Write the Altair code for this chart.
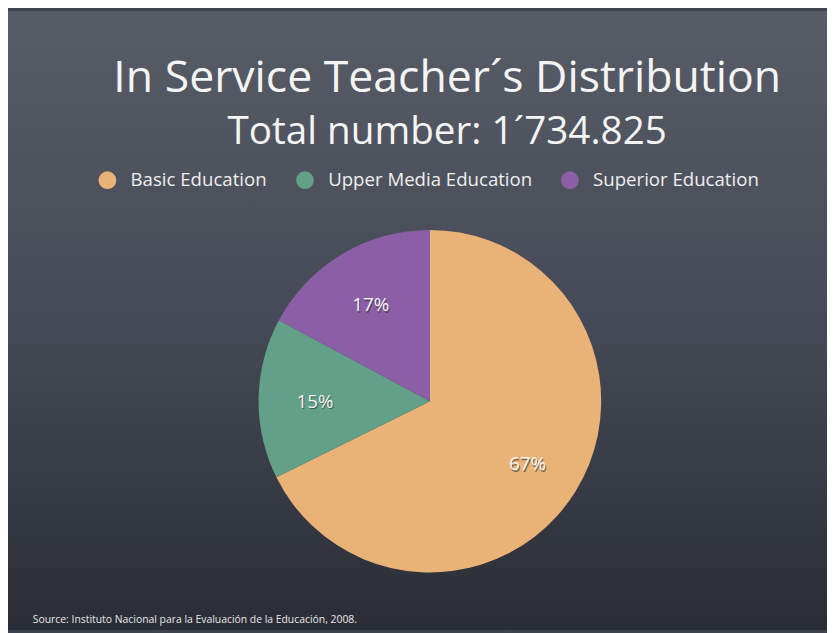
import altair as alt
import pandas as pd

categories = ["Basic Education", "Upper Media Education", "Superior Education"]
values = [67, 15, 17]
labels = ["67%", "15%", "17%"]
colors = ["#e9b277", "#62a087", "#8b5fa6"]
title_text = "In Service Teacher´s Distribution"
subtitle_text = "Total number: 1´734.825"
source_text = "Source: Instituto Nacional para la Evaluación de la Educación, 2008."

FONT = "Open Sans"
W, H = 827, 625

df = pd.DataFrame({"category": categories, "value": values, "label": labels,
                   "idx": list(range(len(categories)))})

bg = alt.Chart(pd.DataFrame({"a": [0]})).mark_rect(
    fill=alt.Gradient(gradient="linear", x1=0, y1=0, x2=0, y2=1,
                      stops=[alt.GradientStop(color="#575c67", offset=0),
                             alt.GradientStop(color="#464a56", offset=0.5),
                             alt.GradientStop(color="#2a2d35", offset=1)])
).encode(x=alt.value(0), x2=alt.value(W), y=alt.value(0), y2=alt.value(H))

cx, cy = 426, 394

base = alt.Chart(df).encode(
    theta=alt.Theta("value:Q", stack=True),
    order=alt.Order("idx:Q"),
    x=alt.value(cx), y=alt.value(cy),
)

pie = base.mark_arc(outerRadius=173, strokeWidth=0).encode(
    color=alt.Color("category:N",
                    scale=alt.Scale(domain=categories, range=colors),
                    legend=alt.Legend(title=None, orient="none", direction="horizontal",
                                      legendX=91, legendY=161,
                                      symbolType="circle", symbolSize=320,
                                      symbolStrokeWidth=0, symbolOpacity=1,
                                      labelColor="#eeeeee", labelFont=FONT,
                                      labelFontSize=18.8, labelOffset=14,
                                      columnPadding=28.5, labelLimit=400))
)

shadow = base.mark_text(radius=116, font=FONT, fontSize=19, color="#333333",
                        opacity=0.6, dx=1, dy=4).encode(text="label:N")
txt = base.mark_text(radius=116, font=FONT, fontSize=19, color="#f4f4f4",
                     dy=2.5).encode(text="label:N")

source = alt.Chart(pd.DataFrame({"t": [source_text]})).mark_text(
    align="left", baseline="middle", font=FONT, fontSize=10.5, color="#e8e8e8"
).encode(text="t:N", x=alt.value(25), y=alt.value(615))

chart = alt.layer(bg, pie, shadow, txt, source).properties(
    width=W, height=H,
    padding=0,
    autosize=alt.AutoSizeParams(type="none"),
    background="#3f434d",
    title=alt.TitleParams(text=title_text, subtitle=subtitle_text, anchor="middle",
                          font=FONT, fontSize=45, fontWeight="normal", color="#f4f4f4",
                          subtitleFont=FONT, subtitleFontSize=39, subtitleColor="#f4f4f4",
                          subtitlePadding=12, offset=-142, dx=30),
).configure_view(stroke=None)

chart.save("out.html", embed_options={"renderer": "svg", "actions": False})
